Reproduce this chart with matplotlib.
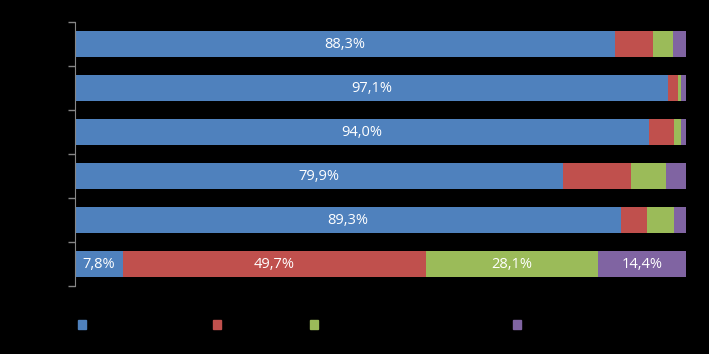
import matplotlib
matplotlib.use("Agg")
import matplotlib.pyplot as plt
import numpy as np
from matplotlib.patches import Patch

categories = ["Cat. 1", "Cat. 2", "Cat. 3", "Cat. 4", "Cat. 5", "Cat. 6"]
series_names = ["Série 1", "Série 2", "Série 3", "Série 4"]
s1 = [88.3, 97.1, 94.0, 79.9, 89.3, 7.8]
s2 = [6.3, 1.6, 4.1, 11.1, 4.3, 49.7]
s3 = [3.3, 0.4, 1.0, 5.8, 4.4, 28.1]
s4 = [2.1, 0.9, 0.9, 3.2, 2.0, 14.4]
colors = ["#4F81BD", "#C0504D", "#9BBB59", "#8064A2"]
# which segments get labels (row index -> set of series index)
labelled = {0: [0], 1: [0], 2: [0], 3: [0], 4: [0], 5: [0, 1, 2, 3]}

plt.rcParams['font.family'] = ['Open Sans', 'DejaVu Sans']

fig = plt.figure(figsize=(7.09, 3.54), dpi=100, facecolor="black")
ax = fig.add_axes([75/709, 1-286/354, (686-75)/709, (286-22)/354], facecolor="black")

y = np.arange(len(categories))
data = [s1, s2, s3, s4]
left = np.zeros(len(categories))
for si, (vals, c) in enumerate(zip(data, colors)):
    vals = np.array(vals)
    bars = ax.barh(y, vals, left=left, height=0.57, color=c, label=series_names[si])
    for i, (b, v) in enumerate(zip(bars, vals)):
        if si in labelled[i]:
            ax.text(left[i] + v/2, i, f"{v:.1f}%".replace(".", ","), ha="center", va="center",
                    color="white", fontsize=10.5)
    left += vals

ax.set_xlim(0, 100)
ax.set_ylim(len(categories)-0.5, -0.5)
ax.set_yticks(y)
ax.set_yticklabels(categories, color="black", fontsize=8)
ax.set_yticks(np.arange(-0.5, len(categories)), minor=True)
ax.tick_params(axis="y", which="major", length=0, pad=8)
ax.tick_params(axis="y", which="minor", length=5, color="#868686", width=1)
ax.set_xticks([])
for s in ["top", "right", "bottom"]:
    ax.spines[s].set_visible(False)
ax.spines["left"].set_color("#868686")

xs = [82, 217, 314, 517]
for name, c, xp in zip(series_names, colors, xs):
    fig.legend(handles=[Patch(color=c)], labels=[name], loc="center left",
               bbox_to_anchor=((xp-4)/709, 1-325.5/354), frameon=False,
               handlelength=0.65, handleheight=0.65, handletextpad=0.4,
               borderpad=0, borderaxespad=0, labelcolor="black", fontsize=9)

fig.savefig("out.png", dpi=100, facecolor="black")
